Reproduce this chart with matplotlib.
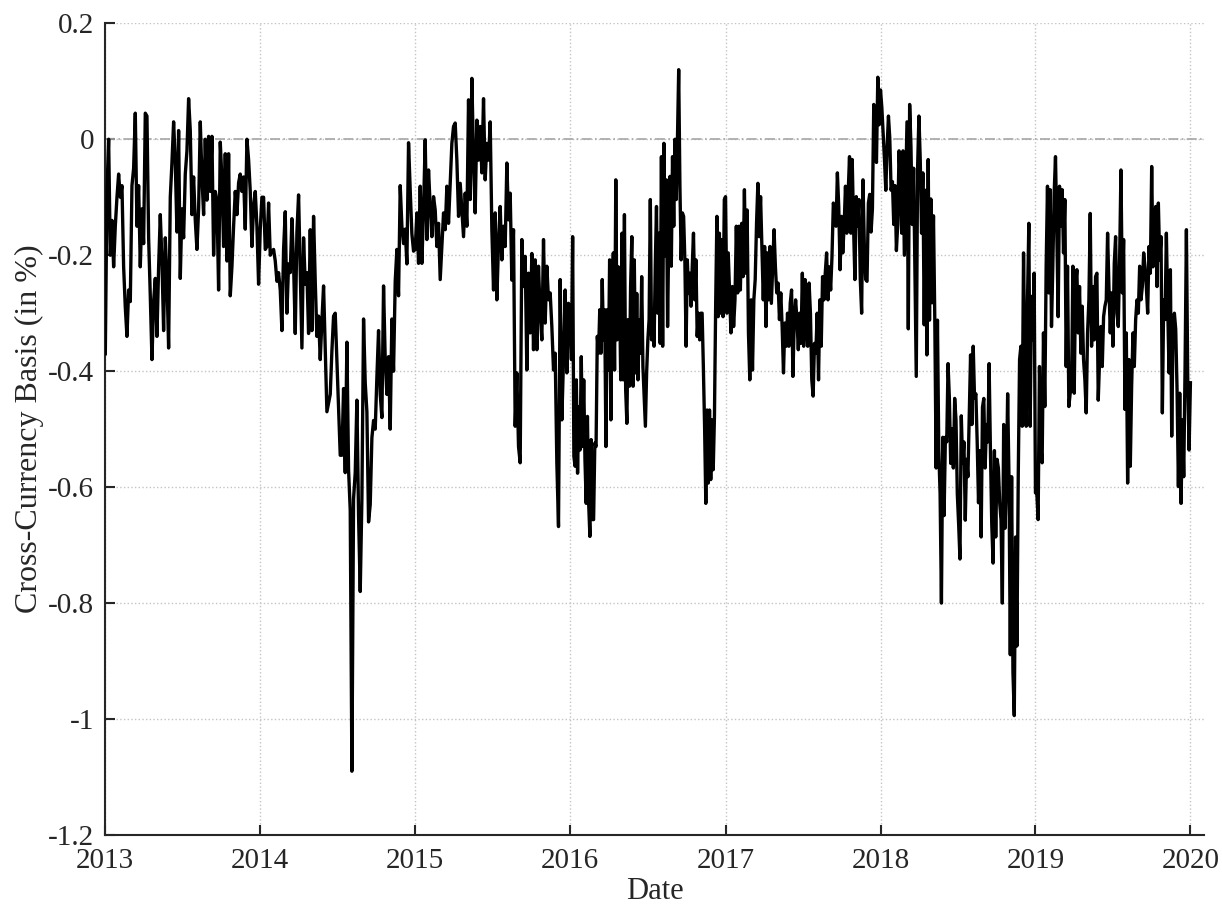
import numpy as np
import pandas as pd
import matplotlib
matplotlib.use("Agg")
import matplotlib.pyplot as plt

plt.rcParams['font.family'] = ['Liberation Serif', 'DejaVu Serif']
plt.rcParams['axes.unicode_minus'] = False

# Cross-currency basis (in %), samples spread evenly over each calendar year
basis_2013 = [-0.37, -0.09, 0.00, -0.20, -0.14, -0.22, -0.15, -0.10, -0.06, -0.10, -0.08, -0.22, -0.29, -0.34,
              -0.26, -0.28, -0.08, -0.05, 0.045, -0.15, -0.08, -0.22, -0.12, -0.18, 0.045, 0.04, -0.17, -0.27,
              -0.38, -0.28, -0.24, -0.34, -0.22, -0.13, -0.21, -0.33, -0.17, -0.24, -0.36, -0.10, -0.04, 0.03,
              -0.04, -0.16, 0.015, -0.24, -0.12, -0.17, -0.06, -0.02, 0.07, 0.015, -0.13, -0.065, -0.14, -0.19,
              -0.12, 0.03, -0.065, -0.13, 0.0, -0.105, 0.005, -0.09, 0.005, -0.20, -0.09, -0.105, -0.26, -0.005,
              -0.07, -0.185, -0.025, -0.21, -0.025, -0.27, -0.22, -0.15, -0.09, -0.13, -0.075, -0.06, -0.09,
              -0.065, -0.155, 0.0, -0.035, -0.09, -0.185, -0.115, -0.09, -0.15, -0.25]

basis_2014 = [-0.155, -0.10, -0.10, -0.19, -0.185, -0.11, -0.20, -0.193, -0.19, -0.21, -0.245, -0.23, -0.26,
              -0.33, -0.19, -0.125, -0.30, -0.215, -0.23, -0.137, -0.215, -0.335, -0.16, -0.096, -0.23, -0.36,
              -0.17, -0.25, -0.23, -0.335, -0.156, -0.33, -0.133, -0.245, -0.34, -0.305, -0.38, -0.313, -0.253,
              -0.365, -0.47, -0.455, -0.44, -0.365, -0.305, -0.30, -0.38, -0.455, -0.545, -0.545, -0.43, -0.575,
              -0.35, -0.57, -0.64, -1.09, -0.62, -0.575, -0.45, -0.65, -0.78, -0.62, -0.31, -0.42, -0.47, -0.66,
              -0.63, -0.515, -0.485, -0.50, -0.41, -0.33, -0.44, -0.48, -0.253, -0.38, -0.44, -0.375, -0.50,
              -0.31, -0.40, -0.245, -0.19, -0.27, -0.08, -0.15, -0.18, -0.155, -0.215, -0.006, -0.088, -0.163,
              -0.193]

basis_2015 = [-0.19, -0.127, -0.214, -0.081, -0.214, -0.12, -0.001, -0.173, -0.053, -0.116, -0.168, -0.099,
              -0.122, -0.185, -0.145, -0.242, -0.185, -0.127, -0.156, -0.081, -0.145, -0.076, -0.007, 0.022,
              0.028, -0.036, -0.133, -0.076, -0.122, -0.168, -0.093, -0.15, 0.068, -0.104, 0.105, -0.036,
              -0.127, 0.033, -0.036, 0.022, -0.058, 0.07, -0.07, -0.007, -0.036, 0.03, -0.156, -0.26, -0.127,
              -0.277, -0.179, -0.116, -0.208, -0.15, -0.185, -0.041, -0.139, -0.093, -0.243, -0.156, -0.495,
              -0.403, -0.53, -0.558, -0.173, -0.254, -0.202, -0.398, -0.231, -0.334, -0.197, -0.363, -0.208,
              -0.363, -0.219, -0.30, -0.346, -0.173, -0.317, -0.219, -0.277, -0.265, -0.323, -0.398, -0.369,
              -0.558, -0.668, -0.242, -0.484, -0.38, -0.26, -0.403, -0.283]

basis_2016 = [-0.311, -0.38, -0.168, -0.547, -0.564, -0.415, -0.576, -0.461, -0.536, -0.375, -0.53, -0.415,
              -0.553, -0.628, -0.478, -0.628, -0.685, -0.518, -0.656, -0.656, -0.524, -0.53, -0.34, -0.369,
              -0.294, -0.369, -0.242, -0.346, -0.294, -0.53, -0.294, -0.398, -0.208, -0.484, -0.266, -0.196,
              -0.398, -0.07, -0.346, -0.22, -0.254, -0.415, -0.162, -0.415, -0.13, -0.432, -0.49, -0.311,
              -0.426, -0.254, -0.168, -0.426, -0.208, -0.403, -0.266, -0.415, -0.311, -0.369, -0.237, -0.392,
              -0.443, -0.495, -0.403, -0.346, -0.311, -0.104, -0.346, -0.3, -0.357, -0.22, -0.116, -0.3,
              -0.162, -0.352, -0.03, -0.357, -0.007, -0.202, -0.07, -0.323, -0.156, -0.064, -0.219, -0.03,
              -0.15, 0.0, -0.104, 0.0, 0.12, -0.081, -0.208, -0.127, -0.133, -0.208, -0.357, -0.208, -0.266,
              -0.231, -0.288, -0.219, -0.162, -0.277, -0.208, -0.34, -0.3, -0.346, -0.3, -0.3, -0.392, -0.495,
              -0.628, -0.467, -0.593, -0.467, -0.587, -0.484, -0.57, -0.478, -0.283, -0.133, -0.306, -0.162,
              -0.3, -0.173, -0.306, -0.104]

basis_2017 = [-0.099, -0.30, -0.196, -0.265, -0.334, -0.254, -0.323, -0.277, -0.15, -0.265, -0.15, -0.26,
              -0.145, -0.237, -0.087, -0.231, -0.122, -0.334, -0.415, -0.277, -0.398, -0.277, -0.242, -0.145,
              -0.076, -0.168, -0.099, -0.185, -0.277, -0.185, -0.323, -0.196, -0.277, -0.185, -0.283, -0.22,
              -0.156, -0.22, -0.265, -0.248, -0.311, -0.265, -0.323, -0.403, -0.317, -0.357, -0.3, -0.357,
              -0.283, -0.26, -0.409, -0.311, -0.277, -0.311, -0.363, -0.3, -0.352, -0.231, -0.357, -0.242,
              -0.311, -0.357, -0.248, -0.3, -0.415, -0.443, -0.352, -0.369, -0.3, -0.415, -0.277, -0.357,
              -0.237, -0.277, -0.231, -0.196, -0.277, -0.22, -0.26, -0.202, -0.11, -0.122, -0.15, -0.058,
              -0.116, -0.225, -0.133, -0.196, -0.15, -0.081, -0.162, -0.093, -0.03, -0.162, -0.035, -0.15,
              -0.242, -0.099, -0.15, -0.104, -0.242, -0.30, -0.07, -0.185, -0.242, -0.245, -0.11, -0.095,
              -0.16, -0.12, 0.06, 0.0, -0.04, 0.107, 0.025]

basis_2018 = [0.085, 0.055, 0.01, -0.035, -0.088, -0.013, 0.04, 0.002, -0.088, -0.073, -0.147, -0.08, -0.192,
              -0.147, -0.02, -0.073, -0.162, -0.02, -0.2, -0.088, 0.03, -0.327, 0.06, -0.013, -0.147, -0.05,
              -0.237, -0.409, -0.05, 0.04, -0.035, -0.162, -0.058, -0.32, -0.088, -0.372, -0.035, -0.312,
              -0.103, -0.282, -0.132, -0.312, -0.567, -0.312, -0.537, -0.612, -0.80, -0.514, -0.649, -0.514,
              -0.522, -0.387, -0.447, -0.559, -0.499, -0.567, -0.447, -0.484, -0.612, -0.664, -0.724, -0.477,
              -0.559, -0.522, -0.657, -0.552, -0.582, -0.477, -0.372, -0.492, -0.357, -0.447, -0.439, -0.522,
              -0.627, -0.537, -0.686, -0.462, -0.447, -0.567, -0.492, -0.522, -0.387, -0.537, -0.664, -0.731,
              -0.537, -0.686, -0.552, -0.567, -0.627, -0.657, -0.80, -0.492, -0.671, -0.597, -0.439, -0.582,
              -0.889, -0.582, -0.919, -0.994, -0.686, -0.874, -0.582, -0.38, -0.357, -0.495, -0.196, -0.392,
              -0.495, -0.277, -0.145, -0.495, -0.271, -0.346, -0.231]

basis_2019 = [-0.61, -0.61, -0.656, -0.392, -0.53, -0.558, -0.334, -0.461, -0.22, -0.081, -0.265, -0.087,
              -0.323, -0.219, -0.093, -0.03, -0.162, -0.306, -0.081, -0.15, -0.087, -0.196, -0.104, -0.392,
              -0.219, -0.461, -0.438, -0.432, -0.219, -0.438, -0.254, -0.225, -0.334, -0.254, -0.369, -0.288,
              -0.38, -0.415, -0.472, -0.334, -0.277, -0.128, -0.357, -0.254, -0.346, -0.237, -0.231, -0.45,
              -0.38, -0.323, -0.392, -0.306, -0.288, -0.277, -0.162, -0.254, -0.334, -0.265, -0.357, -0.214,
              -0.168, -0.3, -0.323, -0.208, -0.053, -0.265, -0.173, -0.466, -0.334, -0.593, -0.38, -0.564,
              -0.426, -0.334, -0.392, -0.311, -0.277, -0.3, -0.219, -0.277, -0.254, -0.196, -0.22, -0.254,
              -0.3, -0.185, -0.231, -0.047, -0.22, -0.162, -0.116, -0.254, -0.11, -0.208, -0.168, -0.472,
              -0.277, -0.311, -0.162, -0.288, -0.403, -0.225, -0.512, -0.323, -0.3, -0.328, -0.432, -0.599,
              -0.438, -0.628, -0.484, -0.582, -0.392, -0.156, -0.415, -0.536, -0.42]

years = [2013, 2014, 2015, 2016, 2017, 2018, 2019]
yearly = [basis_2013, basis_2014, basis_2015, basis_2016, basis_2017, basis_2018, basis_2019]

y_ticks = [-1.2, -1.0, -0.8, -0.6, -0.4, -0.2, 0.0, 0.2]
y_tick_labels = ['-1.2', '-1', '-0.8', '-0.6', '-0.4', '-0.2', '0', '0.2']
x_tick_years = [2013, 2014, 2015, 2016, 2017, 2018, 2019, 2020]

# build the date axis
dates_parts = []
for i, (yr, vals) in enumerate(zip(years, yearly)):
    start = pd.Timestamp(f"{yr}-01-01")
    end = pd.Timestamp(f"{yr + 1}-01-01")
    n = len(vals)
    last = (i == len(years) - 1)
    frac = np.arange(n) / ((n - 1) if last else n)
    dates_parts.append(start + (end - start) * frac)
dates = pd.DatetimeIndex(np.concatenate([np.asarray(d) for d in dates_parts]))
values = np.concatenate([np.asarray(v, float) for v in yearly])

fig = plt.figure(figsize=(12.22, 9.09), dpi=100)
ax = fig.add_axes([105.3 / 1222, 1 - 835 / 909, (1204 - 105.3) / 1222, (835 - 23.3) / 909])

ax.grid(True, linestyle=':', color='#c4c4c4', linewidth=1.0)
ax.set_axisbelow(True)
ax.axhline(0, color='#a6a6a6', linestyle=(0, (6, 2, 1, 2)), linewidth=1.2, zorder=1.5)
ax.plot(dates, values, color='black', linewidth=2.4, zorder=3)

ax.set_xlim(pd.Timestamp('2013-01-01'), pd.Timestamp('2020-02-02'))
ax.set_ylim(-1.2, 0.2)
ax.set_xticks([pd.Timestamp(f"{y}-01-01") for y in x_tick_years])
ax.set_xticklabels([str(y) for y in x_tick_years])
ax.set_yticks(y_ticks)
ax.set_yticklabels(y_tick_labels)

for s in ['top', 'right']:
    ax.spines[s].set_visible(False)
for s in ['left', 'bottom']:
    ax.spines[s].set_color('#262626')
    ax.spines[s].set_linewidth(1.5)

ax.tick_params(axis='both', direction='in', length=7.5, width=1.5, color='#262626',
               labelsize=21, labelcolor='#262626')
ax.tick_params(axis='x', pad=9)
ax.tick_params(axis='y', pad=8)

ax.set_xlabel('Date', fontsize=22, color='#262626')
ax.set_ylabel('Cross-Currency Basis (in %)', fontsize=23, color='#262626')
ax.xaxis.set_label_coords(0.5, -0.052)
ax.yaxis.set_label_coords(-0.056, 0.5)

fig.savefig('out.png', dpi=100)
